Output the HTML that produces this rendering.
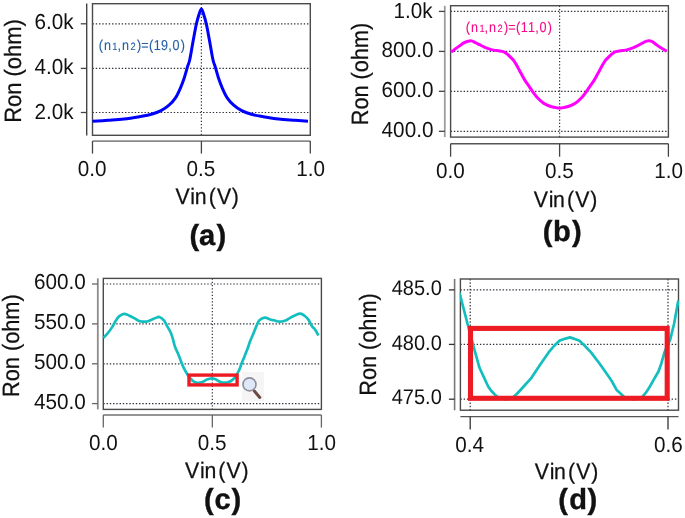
<!DOCTYPE html>
<html><head><meta charset="utf-8"><style>
html,body{margin:0;padding:0;background:#fff;}
svg{display:block;font-family:"Liberation Sans", sans-serif;font-kerning:none;will-change:transform;text-rendering:geometricPrecision;filter:blur(0.3px);}
</style></head><body>
<svg width="685" height="518" viewBox="0 0 685 518">
<line x1="92.5" y1="23.8" x2="310.3" y2="23.8" stroke="#30303c" stroke-width="1.2" stroke-dasharray="1.4 1.85"/>
<line x1="92.5" y1="68.4" x2="310.3" y2="68.4" stroke="#30303c" stroke-width="1.2" stroke-dasharray="1.4 1.85"/>
<line x1="92.5" y1="112.5" x2="310.3" y2="112.5" stroke="#30303c" stroke-width="1.2" stroke-dasharray="1.4 1.85"/>
<line x1="201.4" y1="3.7" x2="201.4" y2="135.3" stroke="#30303c" stroke-width="1.2" stroke-dasharray="1.4 1.85"/>
<line x1="86.7" y1="3.5" x2="86.7" y2="135.4" stroke="#444" stroke-width="1.4"/>
<line x1="80.8" y1="23.8" x2="86.7" y2="23.8" stroke="#444" stroke-width="1.3"/>
<line x1="80.8" y1="68.4" x2="86.7" y2="68.4" stroke="#444" stroke-width="1.3"/>
<line x1="80.8" y1="112.5" x2="86.7" y2="112.5" stroke="#444" stroke-width="1.3"/>
<rect x="92.5" y="3.7" width="217.8" height="131.60000000000002" fill="none" stroke="#4a4a4a" stroke-width="1.4"/>
<line x1="92.5" y1="141.1" x2="310.3" y2="141.1" stroke="#8a8a8a" stroke-width="1.7"/>
<line x1="92.5" y1="141.1" x2="92.5" y2="153.6" stroke="#444" stroke-width="1.3"/>
<line x1="201.4" y1="141.1" x2="201.4" y2="153.6" stroke="#444" stroke-width="1.3"/>
<line x1="310.3" y1="141.1" x2="310.3" y2="153.6" stroke="#444" stroke-width="1.3"/>
<path d="M92.50,121.20 C95.08,121.05 102.75,120.65 108.00,120.30 C113.25,119.95 118.67,119.72 124.00,119.10 C129.33,118.48 135.43,117.40 140.00,116.60 C144.57,115.80 147.90,115.28 151.40,114.30 C154.90,113.32 158.07,112.22 161.00,110.70 C163.93,109.18 166.58,107.33 169.00,105.20 C171.42,103.07 173.62,100.72 175.50,97.90 C177.38,95.08 178.83,91.67 180.30,88.30 C181.77,84.93 183.08,81.35 184.30,77.70 C185.52,74.05 186.68,69.43 187.60,66.40 C188.52,63.37 188.85,63.90 189.80,59.50 C190.75,55.10 192.20,45.93 193.30,40.00 C194.40,34.07 195.40,28.32 196.40,23.90 C197.40,19.48 198.48,16.00 199.30,13.50 C200.12,11.00 200.67,8.90 201.35,8.90 C202.03,8.90 202.57,11.00 203.40,13.50 C204.22,16.00 205.30,19.48 206.30,23.90 C207.30,28.32 208.30,34.07 209.40,40.00 C210.50,45.93 211.95,55.10 212.90,59.50 C213.85,63.90 214.18,63.37 215.10,66.40 C216.02,69.43 217.18,74.05 218.40,77.70 C219.62,81.35 220.93,84.93 222.40,88.30 C223.87,91.67 225.32,95.08 227.20,97.90 C229.08,100.72 231.28,103.07 233.70,105.20 C236.12,107.33 238.77,109.18 241.70,110.70 C244.63,112.22 247.80,113.32 251.30,114.30 C254.80,115.28 258.13,115.80 262.70,116.60 C267.27,117.40 273.37,118.48 278.70,119.10 C284.03,119.72 289.82,119.95 294.70,120.30 C299.58,120.65 305.78,121.05 308.00,121.20" fill="none" stroke="#0000ff" stroke-width="3.0" stroke-linejoin="round"/>
<line x1="450.6" y1="11.4" x2="668.4" y2="11.4" stroke="#30303c" stroke-width="1.2" stroke-dasharray="1.4 1.85"/>
<line x1="450.6" y1="51.4" x2="668.4" y2="51.4" stroke="#30303c" stroke-width="1.2" stroke-dasharray="1.4 1.85"/>
<line x1="450.6" y1="91.3" x2="668.4" y2="91.3" stroke="#30303c" stroke-width="1.2" stroke-dasharray="1.4 1.85"/>
<line x1="450.6" y1="131.3" x2="668.4" y2="131.3" stroke="#30303c" stroke-width="1.2" stroke-dasharray="1.4 1.85"/>
<line x1="559.6" y1="5.7" x2="559.6" y2="137.1" stroke="#30303c" stroke-width="1.2" stroke-dasharray="1.4 1.85"/>
<line x1="444.8" y1="5.8" x2="444.8" y2="137.1" stroke="#9c9c9c" stroke-width="1.8"/>
<line x1="438.9" y1="11.4" x2="444.8" y2="11.4" stroke="#444" stroke-width="1.3"/>
<line x1="438.9" y1="51.4" x2="444.8" y2="51.4" stroke="#444" stroke-width="1.3"/>
<line x1="438.9" y1="91.3" x2="444.8" y2="91.3" stroke="#444" stroke-width="1.3"/>
<line x1="438.9" y1="131.3" x2="444.8" y2="131.3" stroke="#444" stroke-width="1.3"/>
<rect x="450.6" y="5.7" width="217.79999999999995" height="131.4" fill="none" stroke="#4a4a4a" stroke-width="1.4"/>
<line x1="450.6" y1="143.7" x2="668.4" y2="143.7" stroke="#555" stroke-width="1.4"/>
<line x1="450.6" y1="143.7" x2="450.6" y2="156.7" stroke="#444" stroke-width="1.3"/>
<line x1="559.6" y1="143.7" x2="559.6" y2="156.7" stroke="#444" stroke-width="1.3"/>
<line x1="668.4" y1="143.7" x2="668.4" y2="156.7" stroke="#444" stroke-width="1.3"/>
<path d="M451.10,52.10 C451.75,51.60 453.62,50.12 455.00,49.10 C456.38,48.08 457.93,47.03 459.40,46.00 C460.87,44.97 462.35,43.70 463.80,42.90 C465.25,42.10 466.80,41.53 468.10,41.20 C469.40,40.87 470.43,40.68 471.60,40.90 C472.77,41.12 473.78,41.87 475.10,42.50 C476.42,43.13 478.03,43.97 479.50,44.70 C480.97,45.43 482.43,46.25 483.90,46.90 C485.37,47.55 486.70,48.07 488.30,48.60 C489.90,49.13 491.75,49.73 493.50,50.10 C495.25,50.47 497.18,50.53 498.80,50.80 C500.42,51.07 501.92,51.25 503.20,51.70 C504.48,52.15 505.38,52.68 506.50,53.50 C507.62,54.32 508.72,55.47 509.90,56.60 C511.08,57.73 512.37,58.65 513.60,60.30 C514.83,61.95 516.07,64.33 517.30,66.50 C518.53,68.67 519.75,71.03 521.00,73.30 C522.25,75.57 523.45,77.93 524.80,80.10 C526.15,82.27 527.77,84.35 529.10,86.30 C530.43,88.25 531.37,89.85 532.80,91.80 C534.23,93.75 535.95,96.15 537.70,98.00 C539.45,99.85 541.35,101.57 543.30,102.90 C545.25,104.23 547.35,105.22 549.40,106.00 C551.45,106.78 553.92,107.25 555.60,107.60 C557.28,107.95 558.20,108.10 559.50,108.10 C560.80,108.10 561.72,107.95 563.40,107.60 C565.08,107.25 567.55,106.78 569.60,106.00 C571.65,105.22 573.75,104.23 575.70,102.90 C577.65,101.57 579.55,99.85 581.30,98.00 C583.05,96.15 584.77,93.75 586.20,91.80 C587.63,89.85 588.57,88.25 589.90,86.30 C591.23,84.35 592.85,82.27 594.20,80.10 C595.55,77.93 596.75,75.57 598.00,73.30 C599.25,71.03 600.47,68.67 601.70,66.50 C602.93,64.33 604.17,61.95 605.40,60.30 C606.63,58.65 607.92,57.73 609.10,56.60 C610.28,55.47 611.38,54.32 612.50,53.50 C613.62,52.68 614.52,52.15 615.80,51.70 C617.08,51.25 618.58,51.07 620.20,50.80 C621.82,50.53 623.75,50.47 625.50,50.10 C627.25,49.73 629.10,49.13 630.70,48.60 C632.30,48.07 633.63,47.55 635.10,46.90 C636.57,46.25 638.10,45.43 639.50,44.70 C640.90,43.97 642.33,43.10 643.50,42.50 C644.67,41.90 645.53,41.38 646.50,41.10 C647.47,40.82 648.30,40.68 649.30,40.80 C650.30,40.92 651.28,41.12 652.50,41.80 C653.72,42.48 655.35,43.98 656.60,44.90 C657.85,45.82 658.85,46.57 660.00,47.30 C661.15,48.03 662.38,48.63 663.50,49.30 C664.62,49.97 666.17,50.97 666.70,51.30" fill="none" stroke="#ff00ff" stroke-width="3.0" stroke-linejoin="round"/>
<line x1="103.3" y1="284" x2="321.4" y2="284" stroke="#30303c" stroke-width="1.2" stroke-dasharray="1.4 1.85"/>
<line x1="103.3" y1="323.9" x2="321.4" y2="323.9" stroke="#30303c" stroke-width="1.2" stroke-dasharray="1.4 1.85"/>
<line x1="103.3" y1="363.8" x2="321.4" y2="363.8" stroke="#30303c" stroke-width="1.2" stroke-dasharray="1.4 1.85"/>
<line x1="103.3" y1="403.6" x2="321.4" y2="403.6" stroke="#30303c" stroke-width="1.2" stroke-dasharray="1.4 1.85"/>
<line x1="212.35" y1="278.4" x2="212.35" y2="409.4" stroke="#30303c" stroke-width="1.2" stroke-dasharray="1.4 1.85"/>
<line x1="97.8" y1="278.3" x2="97.8" y2="409.4" stroke="#8c8c8c" stroke-width="1.8"/>
<line x1="92" y1="284" x2="97.8" y2="284" stroke="#666" stroke-width="1.3"/>
<line x1="92" y1="323.9" x2="97.8" y2="323.9" stroke="#666" stroke-width="1.3"/>
<line x1="92" y1="363.8" x2="97.8" y2="363.8" stroke="#666" stroke-width="1.3"/>
<line x1="92" y1="403.6" x2="97.8" y2="403.6" stroke="#666" stroke-width="1.3"/>
<rect x="103.3" y="278.4" width="218.09999999999997" height="131.0" fill="none" stroke="#4a4a4a" stroke-width="1.4"/>
<line x1="103.3" y1="415.0" x2="321.4" y2="415.0" stroke="#707070" stroke-width="1.6"/>
<line x1="103.3" y1="415.0" x2="103.3" y2="427.6" stroke="#666" stroke-width="1.3"/>
<line x1="212.35" y1="415.0" x2="212.35" y2="427.6" stroke="#666" stroke-width="1.3"/>
<line x1="321.4" y1="415.0" x2="321.4" y2="427.6" stroke="#666" stroke-width="1.3"/>
<path d="M103.50,337.80 C104.23,337.00 106.43,334.82 107.90,333.00 C109.37,331.18 110.92,329.08 112.30,326.90 C113.68,324.72 114.97,321.73 116.20,319.90 C117.43,318.07 118.38,316.92 119.70,315.90 C121.02,314.88 122.57,313.87 124.10,313.80 C125.63,313.73 127.22,314.78 128.90,315.50 C130.58,316.22 132.60,317.22 134.20,318.10 C135.80,318.98 137.20,320.22 138.50,320.80 C139.80,321.38 140.53,321.48 142.00,321.60 C143.47,321.72 145.68,321.82 147.30,321.50 C148.92,321.18 150.33,320.27 151.70,319.70 C153.07,319.13 154.23,318.55 155.50,318.10 C156.77,317.65 157.90,316.62 159.30,317.00 C160.70,317.38 162.62,318.93 163.90,320.40 C165.18,321.87 165.85,323.73 167.00,325.80 C168.15,327.87 169.78,330.48 170.80,332.80 C171.82,335.12 172.45,337.52 173.10,339.70 C173.75,341.88 174.05,343.97 174.70,345.90 C175.35,347.83 176.23,349.50 177.00,351.30 C177.77,353.10 178.53,354.77 179.30,356.70 C180.07,358.63 180.82,360.97 181.60,362.90 C182.38,364.83 183.10,366.50 184.00,368.30 C184.90,370.10 186.07,372.17 187.00,373.70 C187.93,375.23 188.85,376.53 189.60,377.50 C190.35,378.47 190.93,378.92 191.50,379.50 C192.07,380.08 192.25,380.50 193.00,381.00 C193.75,381.50 194.83,382.23 196.00,382.50 C197.17,382.77 198.75,382.77 200.00,382.60 C201.25,382.43 202.33,382.02 203.50,381.50 C204.67,380.98 205.67,380.03 207.00,379.50 C208.33,378.97 210.17,378.38 211.50,378.30 C212.83,378.22 213.83,378.55 215.00,379.00 C216.17,379.45 217.33,380.42 218.50,381.00 C219.67,381.58 220.58,382.25 222.00,382.50 C223.42,382.75 225.50,382.75 227.00,382.50 C228.50,382.25 229.75,381.75 231.00,381.00 C232.25,380.25 233.52,379.10 234.50,378.00 C235.48,376.90 236.10,375.77 236.90,374.40 C237.70,373.03 238.52,371.60 239.30,369.80 C240.08,368.00 240.70,365.92 241.60,363.60 C242.50,361.28 243.68,358.47 244.70,355.90 C245.72,353.33 246.80,350.63 247.70,348.20 C248.60,345.77 249.20,343.62 250.10,341.30 C251.00,338.98 252.08,336.75 253.10,334.30 C254.12,331.85 255.17,328.92 256.20,326.60 C257.23,324.28 257.88,321.88 259.30,320.40 C260.72,318.92 262.77,317.82 264.70,317.70 C266.63,317.58 269.35,319.27 270.90,319.70 C272.45,320.13 272.82,320.00 274.00,320.30 C275.18,320.60 276.67,321.30 278.00,321.50 C279.33,321.70 280.65,321.70 282.00,321.50 C283.35,321.30 284.75,320.90 286.10,320.30 C287.45,319.70 288.63,318.72 290.10,317.90 C291.57,317.08 293.17,316.10 294.90,315.40 C296.63,314.70 298.90,313.63 300.50,313.70 C302.10,313.77 303.15,314.77 304.50,315.80 C305.85,316.83 307.38,318.22 308.60,319.90 C309.82,321.58 310.73,324.30 311.80,325.90 C312.87,327.50 313.88,327.90 315.00,329.50 C316.12,331.10 317.92,334.50 318.50,335.50" fill="none" stroke="#14bebe" stroke-width="2.7" stroke-linejoin="round"/>
<rect x="189.0" y="375.1" width="48.1" height="9.8" fill="none" stroke="#ed1c24" stroke-width="3.4"/>
<rect x="242" y="372" width="22" height="29.3" fill="#f5f5f6"/>
<line x1="254.3" y1="391" x2="259.8" y2="397.4" stroke="#6b4a44" stroke-width="3" stroke-linecap="round"/>
<circle cx="249.5" cy="384.4" r="6.5" fill="#dfe8f8" stroke="#8c8c99" stroke-width="1.6"/>
<line x1="460.4" y1="289.9" x2="678.5" y2="289.9" stroke="#30303c" stroke-width="1.2" stroke-dasharray="1.4 1.85"/>
<line x1="460.4" y1="344.4" x2="678.5" y2="344.4" stroke="#30303c" stroke-width="1.2" stroke-dasharray="1.4 1.85"/>
<line x1="460.4" y1="399.2" x2="678.5" y2="399.2" stroke="#30303c" stroke-width="1.2" stroke-dasharray="1.4 1.85"/>
<line x1="470.2" y1="279.0" x2="470.2" y2="410.2" stroke="#30303c" stroke-width="1.2" stroke-dasharray="1.4 1.85"/>
<line x1="668.0" y1="279.0" x2="668.0" y2="410.2" stroke="#30303c" stroke-width="1.2" stroke-dasharray="1.4 1.85"/>
<line x1="454.6" y1="278.9" x2="454.6" y2="410.3" stroke="#777" stroke-width="1.6"/>
<line x1="448.9" y1="289.9" x2="454.6" y2="289.9" stroke="#333" stroke-width="1.3"/>
<line x1="448.9" y1="344.4" x2="454.6" y2="344.4" stroke="#333" stroke-width="1.3"/>
<line x1="448.9" y1="399.2" x2="454.6" y2="399.2" stroke="#333" stroke-width="1.3"/>
<rect x="460.4" y="279.0" width="218.10000000000002" height="131.2" fill="none" stroke="#4a4a4a" stroke-width="1.4"/>
<line x1="460.4" y1="416.6" x2="678.5" y2="416.6" stroke="#555" stroke-width="1.4"/>
<line x1="470.2" y1="416.6" x2="470.2" y2="429.5" stroke="#333" stroke-width="1.3"/>
<line x1="668.0" y1="416.6" x2="668.0" y2="429.5" stroke="#333" stroke-width="1.3"/>
<clipPath id="cd"><rect x="459.7" y="279" width="219.5" height="131.2"/></clipPath>
<path d="M459.50,292.80 L468.10,326.00 L473.40,346.20 L476.10,355.70 L479.50,367.80 L483.60,376.60 L488.30,386.80 L491.00,390.50 L494.50,394.20 L498.00,397.20 L505.50,399.40 L513.00,397.20 L516.50,394.20 L520.00,390.50 L525.00,385.00 L530.80,378.70 L540.10,364.80 L548.60,352.40 L554.00,346.00 L559.40,340.80 L564.00,339.00 L570.00,337.40 L575.50,339.30 L579.50,340.80 L585.00,346.00 L591.00,352.40 L599.30,363.20 L608.50,376.30 L612.00,381.50 L616.60,389.90 L620.00,393.00 L624.50,397.20 L633.50,399.40 L642.00,397.20 L645.50,393.20 L649.30,387.50 L653.90,379.40 L658.60,371.30 L661.40,363.20 L664.30,352.80 L667.20,345.80 L670.10,340.00 L674.10,323.80 L678.30,300.50" fill="none" stroke="#14bebe" stroke-width="2.7" stroke-linejoin="round" clip-path="url(#cd)"/>
<rect x="470.5" y="328.4" width="196.7" height="69.9" fill="none" stroke="#ed1c24" stroke-width="5.1"/>
<text x="34.45" y="29.05" font-size="21.73" fill="#111" textLength="39.12" lengthAdjust="spacingAndGlyphs">6.0k</text>
<text x="34.45" y="74.30" font-size="21.73" fill="#111" textLength="39.12" lengthAdjust="spacingAndGlyphs">4.0k</text>
<text x="34.45" y="118.60" font-size="21.73" fill="#111" textLength="39.12" lengthAdjust="spacingAndGlyphs">2.0k</text>
<text x="77.82" y="175.85" font-size="21.73" fill="#111" textLength="28.77" lengthAdjust="spacingAndGlyphs">0.0</text>
<text x="186.40" y="175.85" font-size="21.73" fill="#111" textLength="28.77" lengthAdjust="spacingAndGlyphs">0.5</text>
<text x="296.18" y="175.85" font-size="21.73" fill="#111" textLength="28.77" lengthAdjust="spacingAndGlyphs">1.0</text>
<text transform="scale(0.95,1)" x="184.63 200.36 204.97 219.64 228.32 244.06" y="203.50" font-size="22.4" stroke="#111" stroke-width="0.25" fill="#111">Vin(V)</text>
<text y="244.55" fill="#111" font-weight="bold" stroke="#111" stroke-width="0.4"><tspan x="189.49" font-size="29.1">(</tspan><tspan x="199.09" font-size="29.1">a</tspan><tspan x="216.62" font-size="29.1">)</tspan></text>
<text transform="translate(20.60,121.00) rotate(-90)" x="-1.80" y="0" font-size="23.6" fill="#111" stroke="#111" stroke-width="0.25" textLength="103.56" lengthAdjust="spacingAndGlyphs">Ron (ohm)</text>
<text x="393.45" y="17.60" font-size="21.73" fill="#111" textLength="39.12" lengthAdjust="spacingAndGlyphs">1.0k</text>
<text x="381.62" y="57.35" font-size="21.73" fill="#111" textLength="51.79" lengthAdjust="spacingAndGlyphs">800.0</text>
<text x="381.62" y="97.35" font-size="21.73" fill="#111" textLength="51.79" lengthAdjust="spacingAndGlyphs">600.0</text>
<text x="381.62" y="137.35" font-size="21.73" fill="#111" textLength="51.79" lengthAdjust="spacingAndGlyphs">400.0</text>
<text x="436.12" y="178.45" font-size="21.73" fill="#111" textLength="28.77" lengthAdjust="spacingAndGlyphs">0.0</text>
<text x="544.90" y="178.45" font-size="21.73" fill="#111" textLength="28.77" lengthAdjust="spacingAndGlyphs">0.5</text>
<text x="654.18" y="178.45" font-size="21.73" fill="#111" textLength="28.77" lengthAdjust="spacingAndGlyphs">1.0</text>
<text transform="scale(0.95,1)" x="561.79 577.52 582.12 596.80 605.48 621.22" y="206.50" font-size="22.4" stroke="#111" stroke-width="0.25" fill="#111">Vin(V)</text>
<text y="241.40" fill="#111" font-weight="bold" stroke="#111" stroke-width="0.4"><tspan x="542.79" font-size="29.1">(</tspan><tspan x="553.05" font-size="29.1">b</tspan><tspan x="572.12" font-size="29.1">)</tspan></text>
<text transform="translate(367.60,123.50) rotate(-90)" x="-1.78" y="0" font-size="23.6" fill="#111" stroke="#111" stroke-width="0.25" textLength="102.42" lengthAdjust="spacingAndGlyphs">Ron (ohm)</text>
<text x="34.02" y="289.40" font-size="21.73" fill="#111" textLength="51.79" lengthAdjust="spacingAndGlyphs">600.0</text>
<text x="34.02" y="329.20" font-size="21.73" fill="#111" textLength="51.79" lengthAdjust="spacingAndGlyphs">550.0</text>
<text x="34.02" y="369.20" font-size="21.73" fill="#111" textLength="51.79" lengthAdjust="spacingAndGlyphs">500.0</text>
<text x="34.02" y="409.10" font-size="21.73" fill="#111" textLength="51.79" lengthAdjust="spacingAndGlyphs">450.0</text>
<text x="89.02" y="449.80" font-size="21.73" fill="#111" textLength="28.77" lengthAdjust="spacingAndGlyphs">0.0</text>
<text x="197.70" y="449.80" font-size="21.73" fill="#111" textLength="28.77" lengthAdjust="spacingAndGlyphs">0.5</text>
<text x="307.23" y="449.80" font-size="21.73" fill="#111" textLength="28.77" lengthAdjust="spacingAndGlyphs">1.0</text>
<text transform="scale(0.95,1)" x="194.85 210.57 215.18 229.85 238.53 254.27" y="477.70" font-size="22.4" stroke="#111" stroke-width="0.25" fill="#111">Vin(V)</text>
<text y="509.30" fill="#111" font-weight="bold" stroke="#111" stroke-width="0.4"><tspan x="204.09" font-size="29.1">(</tspan><tspan x="214.47" font-size="29.1">c</tspan><tspan x="231.62" font-size="29.1">)</tspan></text>
<text transform="translate(18.60,395.20) rotate(-90)" x="-1.78" y="0" font-size="23.6" fill="#111" stroke="#111" stroke-width="0.25" textLength="102.63" lengthAdjust="spacingAndGlyphs">Ron (ohm)</text>
<text x="391.73" y="295.00" font-size="21.2" fill="#111" textLength="50.05" lengthAdjust="spacingAndGlyphs">485.0</text>
<text x="391.73" y="349.50" font-size="21.2" fill="#111" textLength="50.05" lengthAdjust="spacingAndGlyphs">480.0</text>
<text x="391.73" y="404.20" font-size="21.2" fill="#111" textLength="50.05" lengthAdjust="spacingAndGlyphs">475.0</text>
<text x="455.31" y="451.90" font-size="21.73" fill="#111" textLength="28.77" lengthAdjust="spacingAndGlyphs">0.4</text>
<text x="653.92" y="451.90" font-size="21.73" fill="#111" textLength="28.77" lengthAdjust="spacingAndGlyphs">0.6</text>
<text transform="scale(0.95,1)" x="562.85 578.57 583.18 597.85 606.53 622.27" y="479.20" font-size="22.4" stroke="#111" stroke-width="0.25" fill="#111">Vin(V)</text>
<text y="509.40" fill="#111" font-weight="bold" stroke="#111" stroke-width="0.4"><tspan x="558.29" font-size="29.1">(</tspan><tspan x="569.17" font-size="29.1">d</tspan><tspan x="587.42" font-size="29.1">)</tspan></text>
<text transform="translate(375.80,393.90) rotate(-90)" x="-1.78" y="0" font-size="23.6" fill="#111" stroke="#111" stroke-width="0.25" textLength="102.32" lengthAdjust="spacingAndGlyphs">Ron (ohm)</text>
<text transform="scale(0.88,1)" y="49.70" fill="#2360a3" stroke="#2360a3" stroke-width="0.12"><tspan x="112.22" font-size="14.3">(</tspan><tspan x="118.06" font-size="14.3">n</tspan><tspan x="127.70" font-size="10.6">1</tspan><tspan x="133.58" font-size="14.3">,</tspan><tspan x="138.51" font-size="14.3">n</tspan><tspan x="148.42" font-size="10.6">2</tspan><tspan x="155.63" font-size="14.3">)</tspan><tspan x="160.49" font-size="14.3">=</tspan><tspan x="169.38" font-size="14.3">(</tspan><tspan x="174.69" font-size="14.3">1</tspan><tspan x="183.07" font-size="14.3">9</tspan><tspan x="191.31" font-size="14.3">,</tspan><tspan x="196.02" font-size="14.3">0</tspan><tspan x="205.41" font-size="14.3">)</tspan></text>
<text transform="scale(0.88,1)" y="31.50" fill="#f50a85" stroke="#f50a85" stroke-width="0.12"><tspan x="529.26" font-size="14.3">(</tspan><tspan x="535.10" font-size="14.3">n</tspan><tspan x="544.75" font-size="10.6">1</tspan><tspan x="550.63" font-size="14.3">,</tspan><tspan x="555.56" font-size="14.3">n</tspan><tspan x="565.46" font-size="10.6">2</tspan><tspan x="572.68" font-size="14.3">)</tspan><tspan x="577.53" font-size="14.3">=</tspan><tspan x="586.42" font-size="14.3">(</tspan><tspan x="591.74" font-size="14.3">1</tspan><tspan x="599.92" font-size="14.3">1</tspan><tspan x="608.35" font-size="14.3">,</tspan><tspan x="613.07" font-size="14.3">0</tspan><tspan x="622.45" font-size="14.3">)</tspan></text>
</svg>
</body></html>
